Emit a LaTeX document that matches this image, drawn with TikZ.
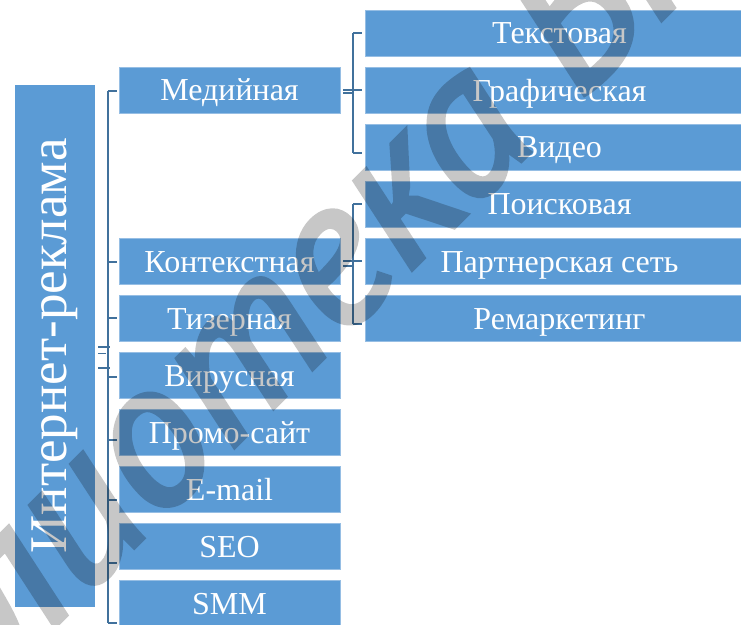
\documentclass[tikz,border=0pt]{standalone}
\usepackage{fontspec}
\setmainfont{Liberation Serif}
\newfontfamily\wmfont[ItalicFeatures={FakeBold=2.5}]{PT Sans}
\definecolor{boxblue}{RGB}{91,155,213}
\definecolor{lineblue}{RGB}{65,113,156}
\definecolor{boxedge}{RGB}{150,190,228}
\begin{document}
\begin{tikzpicture}[x=1pt,y=-1pt,
  lbox/.style={fill=boxblue, draw=boxedge, line width=0.8pt, text=white, inner sep=0pt,
    font=\fontsize{32}{32}\selectfont, text height=21.2pt, text depth=0pt},
  lvlone/.style={lbox, minimum width=221pt, minimum height=46pt},
  lvltwo/.style={lbox, minimum width=389pt, minimum height=46pt},
  rootbox/.style={fill=boxblue, draw=none, text=white, inner sep=0pt,
    font=\fontsize{53}{53}\selectfont, rotate=90, minimum width=522pt, minimum height=80pt},
  conn/.style={draw=lineblue, line width=2pt},
  tick/.style={draw=lineblue, line width=1.8pt},
  wmark/.style={text=black, inner sep=0pt, rotate=45, anchor=base west,
    font=\wmfont\fontsize{205}{205}\selectfont\itshape}]
\useasboundingbox (0,0) rectangle (741,624);

% root
\node[rootbox] (root) at (55,346) {Интернет-реклама};

% level one
\node[lvlone] (med) at (229.5,90)    {Медийная};
\node[lvlone] (ctx) at (229.5,261.5) {Контекстная};
\node[lvlone] (tiz) at (229.5,318.5) {Тизерная};
\node[lvlone] (vir) at (229.5,375.5) {Вирусная};
\node[lvlone] (pro) at (229.5,432.5) {Промо-сайт};
\node[lvlone] (eml) at (229.5,489.5) {E-mail};
\node[lvlone] (seo) at (229.5,546.5) {SEO};
\node[lvlone] (smm) at (229.5,603.5) {SMM};

% level two
\node[lvltwo] (txt) at (559.5,33)    {Текстовая};
\node[lvltwo] (gra) at (559.5,90.5)  {Графическая};
\node[lvltwo] (vid) at (559.5,147)   {Видео};
\node[lvltwo] (poi) at (559.5,204)   {Поисковая};
\node[lvltwo] (par) at (559.5,261.5) {Партнерская сеть};
\node[lvltwo] (rem) at (559.5,318.5) {Ремаркетинг};

% root bracket
\coordinate (rt) at (108,91);
\coordinate (rb) at (108,623);
\draw[conn] (rt) -- (rb);
\foreach \y in {91,262,318,377,440,500,563,623}
  \draw[tick] (108,\y) -- (117,\y);
\draw[tick] (root.south |- 0,347) ++(3,0) -- (110,347);
\draw[tick] (root.south |- 0,353.5) ++(3,0) -- (106,353.5);
\draw[tick] (root.south |- 0,368) ++(3,0) -- (110,368);

% media bracket
\coordinate (mt) at (353,33);
\coordinate (mb) at (353,153);
\draw[conn] (mt) -- (mb);
\draw[tick] (mt) -- ++(9,0);
\draw[tick] (mb) -- ++(9,0);
\draw[tick] (med.east |- 0,90) ++(3,0) -- (362,90);
\draw[tick] (med.east |- 0,93) ++(3,0) -- (353,93);

% context bracket
\coordinate (ct) at (353,204);
\coordinate (cb) at (353,324);
\draw[conn] (ct) -- (cb);
\draw[tick] (ct) -- ++(9,0);
\draw[tick] (cb) -- ++(9,0);
\draw[tick] (ctx.east |- 0,261) ++(3,0) -- (362,261);
\draw[tick] (ctx.east |- 0,266) ++(3,0) -- (353,266);

% watermark
\begin{scope}[transparency group, opacity=0.22]
\node[wmark] (wm) at (-208,889) {Библиотека БГУИР};
\end{scope}
\end{tikzpicture}
\end{document}
